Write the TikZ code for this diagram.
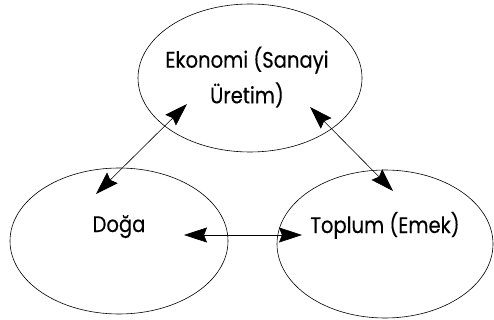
\documentclass[tikz,border=0pt]{standalone}
\usepackage{fontspec}
\setmainfont{Poppins}[FakeStretch=0.87,FakeBold=0.25]
\usetikzlibrary{shapes.geometric,arrows.meta}
\begin{document}
\begin{tikzpicture}[x=1pt,y=-1pt,
  oval/.style={draw,ellipse,line width=0.6pt,inner sep=0pt},
  lbl/.style={font=\fontsize{22.5}{35.6}\selectfont,align=center,inner sep=0pt,text=black},
  tip/.tip={Stealth[length=23pt,width=15pt,inset=3pt]},
  link/.style={line width=0.6pt,tip-tip}]
\useasboundingbox (0,0) rectangle (494,320);
\node[oval,minimum width=224pt,minimum height=148pt] (eko) at (250,78) {};
\node[oval,minimum width=218pt,minimum height=146pt] (doga) at (119,241) {};
\node[oval,minimum width=216pt,minimum height=148pt] (top) at (385,244) {};
\node[lbl,anchor=base] (ekot) at (247,103.3) {Ekonomi (Sanayi\\Üretim)};
\node[lbl,anchor=base] (dogat) at (119,232) {Doğa};
\node[lbl,anchor=base] (topt) at (385,233) {Toplum (Emek)};
\coordinate (a1) at (187,104);
\coordinate (a2) at (96,194);
\coordinate (b1) at (310,107);
\coordinate (b2) at (393,191);
\coordinate (c1) at (184,235);
\coordinate (c2) at (302,235);
\draw[link] (a1) -- (a2);
\draw[link] (b1) -- (b2);
\draw[link] (c1) -- (c2);
\end{tikzpicture}
\end{document}
